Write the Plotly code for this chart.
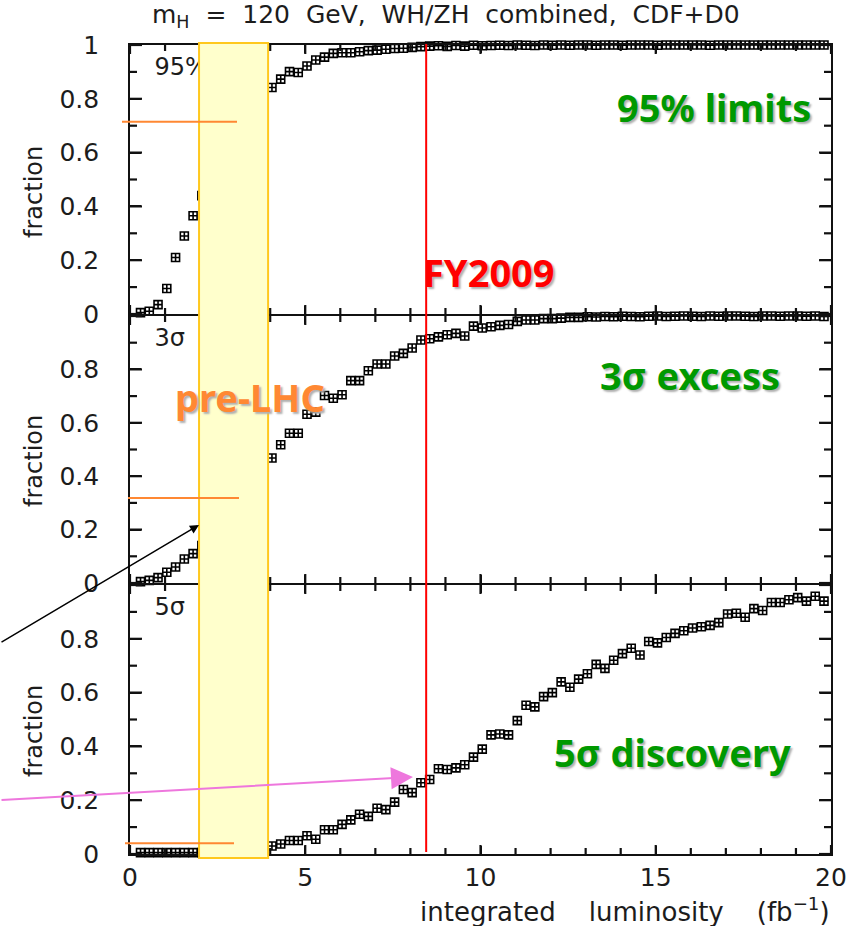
import plotly.graph_objects as go

# ---------------- data ----------------
lumi = [0.3, 0.55, 0.8, 1.05, 1.3, 1.55, 1.8, 2.05, 2.3, 2.55,
        2.8, 3.05, 3.3, 3.55, 3.8, 4.05, 4.3, 4.55, 4.8, 5.05,
        5.3, 5.55, 5.8, 6.05, 6.3, 6.55, 6.8, 7.05, 7.3, 7.55,
        7.8, 8.05, 8.3, 8.55, 8.8, 9.05, 9.3, 9.55, 9.8, 10.05,
        10.3, 10.55, 10.8, 11.05, 11.3, 11.55, 11.8, 12.05, 12.3, 12.55,
        12.8, 13.05, 13.3, 13.55, 13.8, 14.05, 14.3, 14.55, 14.8, 15.05,
        15.3, 15.55, 15.8, 16.05, 16.3, 16.55, 16.8, 17.05, 17.3, 17.55,
        17.8, 18.05, 18.3, 18.55, 18.8, 19.05, 19.3, 19.55, 19.8]

limits95 = [0.005, 0.01, 0.035, 0.095, 0.21, 0.29, 0.365,
            0.44, 0.51, 0.57, 0.63, 0.68, 0.72, 0.77, 0.81,
            0.842, 0.873, 0.901, 0.898, 0.922, 0.944, 0.955, 0.969, 0.971, 0.971,
            0.975, 0.979, 0.981, 0.984, 0.987, 0.988, 0.991, 0.994, 0.996,
            0.997, 0.995, 0.998, 0.996, 0.999, 0.997, 0.998, 0.999, 0.998, 1.0,
            0.999, 0.998, 1.0, 0.999, 1.0, 0.999, 1.0, 1.0, 0.999, 1.0,
            1.0, 0.999, 1.0, 1.0, 1.0, 0.999, 1.0, 1.0, 1.0, 1.0,
            1.0, 0.999, 1.0, 1.0, 1.0, 1.0, 1.0, 1.0, 1.0, 1.0,
            1.0, 1.0, 1.0, 1.0, 1.0]

excess3 = [0.005, 0.01, 0.02, 0.04, 0.06, 0.09, 0.11,
           0.14, 0.18, 0.22, 0.26, 0.31, 0.35, 0.40, 0.44,
           0.468, 0.518, 0.561, 0.561, 0.632, 0.64, 0.702, 0.692, 0.705, 0.758,
           0.758, 0.795, 0.82, 0.82, 0.85, 0.86, 0.88, 0.91, 0.915, 0.922,
           0.93, 0.935, 0.925, 0.962, 0.955, 0.96, 0.965, 0.968, 0.98, 0.985,
           0.985, 0.99, 0.99, 0.992, 0.995, 0.995,
           0.997, 0.996, 0.998, 0.997, 0.999, 0.998, 0.997, 0.999, 1.0, 0.998,
           0.999, 1.0, 0.999, 0.998, 1.0, 0.999, 1.0, 1.0, 0.999, 0.998,
           1.0, 1.0, 0.999, 1.0, 1.0, 0.999, 1.0, 0.998]

discovery5 = [0.005, 0.005, 0.005, 0.005, 0.005, 0.005, 0.005,
              0.005, 0.005, 0.005, 0.008, 0.01, 0.015, 0.02, 0.025,
              0.03, 0.037, 0.05, 0.05, 0.068, 0.055, 0.09, 0.09, 0.11, 0.127,
              0.148, 0.14, 0.17, 0.165, 0.193, 0.24, 0.228, 0.265, 0.277, 0.317,
              0.314, 0.32, 0.332, 0.36, 0.39, 0.443, 0.446, 0.443, 0.496, 0.553,
              0.547,
              0.585, 0.60, 0.64, 0.62, 0.65, 0.67, 0.705, 0.69, 0.72, 0.745,
              0.765, 0.74, 0.79, 0.785, 0.805, 0.82, 0.83, 0.84, 0.845, 0.85,
              0.86, 0.892, 0.895, 0.88, 0.912, 0.905, 0.935, 0.935, 0.945, 0.953,
              0.94, 0.958, 0.94]

panel_labels = ["95%", "3σ", "5σ"]
panel_notes = ["95% limits", "3σ excess", "5σ discovery"]
x_major = [0, 5, 10, 15, 20]
x_minor = [1, 2, 3, 4, 6, 7, 8, 9, 11, 12, 13, 14, 16, 17, 18, 19]
y_major_top = [0, 0.2, 0.4, 0.6, 0.8, 1]
y_major = [0, 0.2, 0.4, 0.6, 0.8]
y_minor = [0.1, 0.3, 0.5, 0.7, 0.9]
prelhc_band = [1.97, 3.94]
fy2009 = 8.45
prelhc_levels = [0.715, 0.318, 0.04]

# ---------------- layout geometry ----------------
W, H = 861, 926
ML, MR, MT, MB = 130, 30, 45, 72
PW, PH = W - ML - MR, H - MT - MB
XMAX = 20.0
ONE = 1.0 / PH


def px_x(px):
    return (px - ML) / PW


def px_y(py):
    return (H - MB - py) / PH


def dx(x):
    return x / XMAX


b1 = px_y(584)
b2 = px_y(315)
# panel order: 0 = top (95%), 1 = middle (3 sigma), 2 = bottom (5 sigma)
domains = [[b2 + ONE, 1.0], [b1 + ONE, b2 - ONE], [0.0, b1 - ONE]]
main_ids = [3, 2, 1]

AX = "#111111"
TXT = "#1c1c1c"
FONT = "DejaVu Sans"
PAD = "\u00a0\u00a0\u00a0"


def ylabel(v):
    s = "0" if v == 0 else ("1" if v == 1 else "%.1f" % v)
    return s + PAD


def aid(letter, n, layout=False):
    if layout:
        return letter + "axis" + ("" if n == 1 else str(n))
    return letter + ("" if n == 1 else str(n))


fig = go.Figure()
layout_axes = {}
series = [limits95, excess3, discovery5]
for p in range(3):
    m = main_ids[p]
    xm, ym = aid("x", m), aid("y", m)
    fig.add_trace(go.Scatter(
        x=[0.7], y=[0.91], mode="text", text=[panel_labels[p]],
        textposition="middle right",
        textfont=dict(family=FONT, size=24, color=TXT),
        xaxis=xm, yaxis=ym, showlegend=False, hoverinfo="skip"))
    fig.add_trace(go.Scatter(
        x=lumi, y=series[p], mode="markers",
        marker=dict(symbol="square-cross-open", size=8,
                    color="black", line=dict(color="black", width=1.6)),
        xaxis=xm, yaxis=ym, showlegend=False, cliponaxis=False))
    yt = y_major_top if p == 0 else y_major
    layout_axes[aid("x", m, True)] = dict(
        range=[0, XMAX], anchor=ym, showline=True, linecolor=AX, linewidth=2,
        mirror="ticks", ticks="inside", ticklen=8, tickwidth=2, tickcolor=AX,
        tickmode="array", tickvals=x_major,
        showticklabels=(p == 2), showgrid=False, zeroline=False,
        tickfont=dict(family=FONT, size=25, color=TXT))
    layout_axes[aid("y", m, True)] = dict(
        range=[0, 1], domain=domains[p], anchor=xm, showline=True,
        linecolor=AX, linewidth=2, mirror="ticks", ticks="inside",
        ticklen=11, tickwidth=2, tickcolor=AX,
        tickmode="array", tickvals=yt, ticktext=[ylabel(v) for v in yt],
        showgrid=False, zeroline=False,
        tickfont=dict(family=FONT, size=25, color=TXT))

fig.update_layout(
    template="none",
    width=W, height=H,
    margin=dict(l=ML, r=MR, t=MT, b=MB),
    paper_bgcolor="white", plot_bgcolor="rgba(0,0,0,0)",
    **layout_axes)

shapes = []


def tick_line(x0, y0, x1, y1):
    return dict(type="line", xref="paper", yref="paper", x0=x0, y0=y0,
                x1=x1, y1=y1, line=dict(color=AX, width=2.2), layer="above")


# tick marks on all four sides of each panel (drawn from the axis tick lists)
for p in range(3):
    d0, d1 = domains[p]
    for vals, L in [(x_major, 9), (x_minor, 6)]:
        for v in vals:
            xp = dx(v)
            shapes.append(tick_line(xp, d0 - ONE, xp, d0 + L / PH))
            shapes.append(tick_line(xp, d1 + ONE, xp, d1 - L / PH))
    for vals, L in [(y_major_top, 12), (y_minor, 7)]:
        for v in vals:
            yp = d0 + v * (d1 - d0)
            shapes.append(tick_line(-1.0 / PW, yp, L / PW, yp))
            shapes.append(tick_line(1 + 1.0 / PW, yp, 1 - L / PW, yp))

shapes.append(dict(type="rect", xref="paper", yref="paper",
                   x0=dx(prelhc_band[0]), x1=dx(prelhc_band[1]),
                   y0=px_y(858), y1=px_y(43),
                   fillcolor="#FFFFCC", line=dict(color="#FFC81E", width=2),
                   layer="above"))
shapes.append(dict(type="line", xref="paper", yref="paper",
                   x0=dx(fy2009), x1=dx(fy2009), y0=px_y(852), y1=px_y(44),
                   line=dict(color="#FF0000", width=2), layer="above"))
orange_x = [(px_x(122), px_x(237)), (px_x(128), px_x(239)), (px_x(125), px_x(234))]
for (xa0, xa1), lev, dom in zip(orange_x, prelhc_levels, domains):
    yy = dom[0] + lev * (dom[1] - dom[0])
    shapes.append(dict(type="line", xref="paper", yref="paper",
                       x0=xa0, x1=xa1, y0=yy, y1=yy,
                       line=dict(color="#FF8833", width=2), layer="above"))
fig.update_layout(shapes=shapes)

shadow = "2px 2px 2px #b0b0b0"
BOLD = "Noto Sans"
NB2 = "\u00a0\u00a0"
NB4 = "\u00a0\u00a0\u00a0\u00a0"
ann = []
ann.append(dict(xref="paper", yref="paper", x=px_x(150), y=px_y(16),
                xanchor="left", yanchor="middle", showarrow=False,
                text="m<sub>H</sub>" + NB2 + "=" + NB2 + "120" + NB2 + "GeV," + NB2
                     + "WH/ZH" + NB2 + "combined," + NB2 + "CDF+D0",
                font=dict(family=FONT, size=25, color=TXT)))
ann.append(dict(xref="paper", yref="paper", x=px_x(832), y=px_y(910),
                xanchor="right", yanchor="middle", showarrow=False,
                text="integrated" + NB4 + "luminosity" + NB4 + "(fb<sup>\u22121</sup>)",
                font=dict(family=FONT, size=26, color=TXT)))
for cy in [192, 461, 731]:
    ann.append(dict(xref="paper", yref="paper", x=px_x(34), y=px_y(cy),
                    xanchor="center", yanchor="middle", showarrow=False,
                    textangle=-90, text="fraction",
                    font=dict(family=FONT, size=24, color=TXT)))
note_pos = [(813, 107), (782, 375), (793, 752)]
for t, (rx, cy) in zip(panel_notes, note_pos):
    ann.append(dict(xref="paper", yref="paper", x=px_x(rx), y=px_y(cy),
                    xanchor="right", yanchor="middle", showarrow=False,
                    text="<b>" + t + "</b>",
                    font=dict(family=BOLD, size=38, color="#009900", shadow=shadow)))
ann.append(dict(xref="paper", yref="paper", x=px_x(421), y=px_y(272),
                xanchor="left", yanchor="middle", showarrow=False,
                text="<b>FY2009</b>",
                font=dict(family=BOLD, size=38, color="#FF0000", shadow=shadow)))
ann.append(dict(xref="paper", yref="paper", x=px_x(173), y=px_y(397),
                xanchor="left", yanchor="middle", showarrow=False,
                text="<b>pre-LHC</b>",
                font=dict(family=BOLD, size=38, color="#FF8833", shadow=shadow)))
ann.append(dict(xref="paper", yref="paper", x=px_x(199), y=px_y(525),
                ax=-199, ay=118, axref="pixel", ayref="pixel", text="",
                showarrow=True, arrowhead=2, arrowsize=1.2, arrowwidth=1.5,
                arrowcolor="black", standoff=0))
ann.append(dict(xref="paper", yref="paper", x=px_x(413), y=px_y(777),
                ax=-413, ay=23, axref="pixel", ayref="pixel", text="",
                showarrow=True, arrowhead=2, arrowsize=2.2, arrowwidth=2,
                arrowcolor="#EE77DD", standoff=0))
fig.update_layout(annotations=ann)

fig.write_html("out.html")
